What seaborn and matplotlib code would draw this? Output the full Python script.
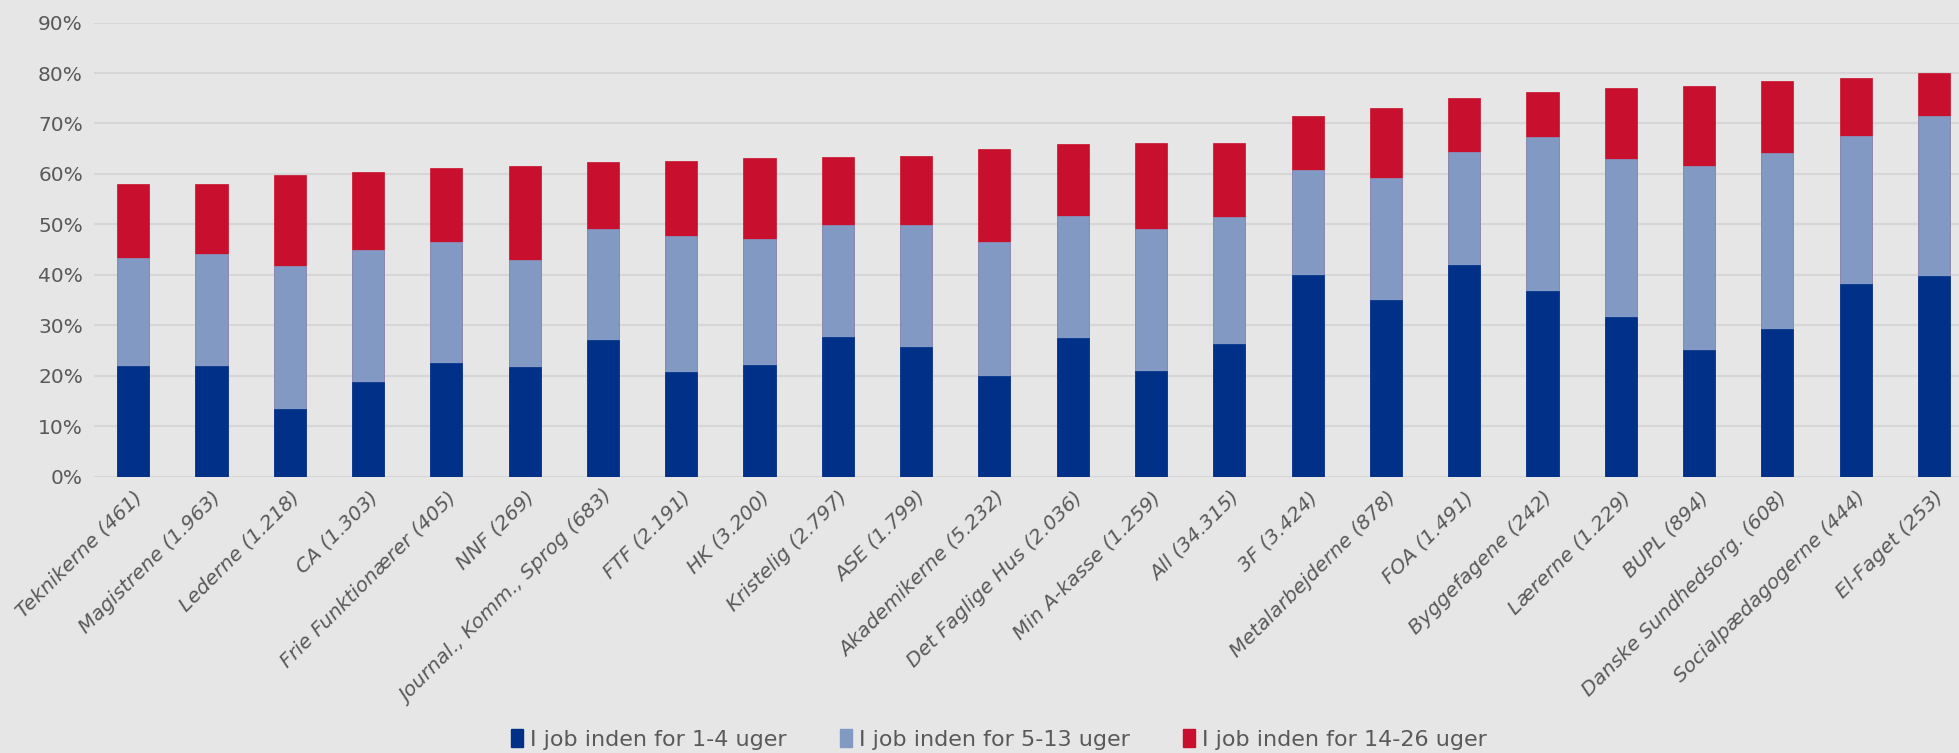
import seaborn as sns
import matplotlib.pyplot as plt
import matplotlib.patches as mpatches
import pandas as pd
import numpy as np

# Andel i job efter ledighed, fordelt på a-kasse
kasser = ["Teknikerne (461)", "Magistrene (1.963)", "Lederne (1.218)", "CA (1.303)",
          "Frie Funktionærer (405)", "NNF (269)", "Journal., Komm., Sprog (683)",
          "FTF (2.191)", "HK (3.200)", "Kristelig (2.797)", "ASE (1.799)",
          "Akademikerne (5.232)", "Det Faglige Hus (2.036)", "Min A-kasse (1.259)",
          "All (34.315)", "3F (3.424)", "Metalarbejderne (878)", "FOA (1.491)",
          "Byggefagene (242)", "Lærerne (1.229)", "BUPL (894)",
          "Danske Sundhedsorg. (608)", "Socialpædagogerne (444)", "El-Faget (253)"]
uger_1_4 = [21.9, 21.9, 13.4, 18.8, 22.6, 21.7, 27.0, 20.7, 22.1, 27.6, 25.7, 20.0,
            27.5, 20.9, 26.3, 40.0, 35.0, 42.0, 36.7, 31.6, 25.1, 29.2, 38.1, 39.7]
uger_5_13 = [21.4, 22.3, 28.4, 26.2, 24.0, 21.3, 22.1, 27.0, 25.0, 22.3, 24.1, 26.5,
             24.2, 28.2, 25.2, 20.8, 24.2, 22.4, 30.6, 31.4, 36.5, 35.0, 29.4, 31.7]
uger_14_26 = [14.7, 13.9, 17.9, 15.3, 14.5, 18.6, 13.2, 14.9, 16.1, 13.4, 13.7, 18.4,
              14.2, 17.0, 14.7, 10.7, 13.9, 10.7, 9.0, 14.1, 15.8, 14.2, 11.6, 8.7]
serier = ["I job inden for 1-4 uger", "I job inden for 5-13 uger", "I job inden for 14-26 uger"]
farver = ["#003087", "#8299C4", "#C8102E"]

df = pd.DataFrame({"kasse": kasser, "a": uger_1_4, "b": uger_5_13, "c": uger_14_26})
df["cum_a"] = df["a"] / 100
df["cum_b"] = (df["a"] + df["b"]) / 100
df["cum_c"] = (df["a"] + df["b"] + df["c"]) / 100

bg = "#E6E6E6"
txt = "#595959"
sns.set_style("white")
plt.rcParams["font.family"] = ["DejaVu Sans"]

fig, ax = plt.subplots(figsize=(19.59, 7.53), dpi=100)
fig.patch.set_facecolor(bg)
ax.set_facecolor(bg)

# stablede søjler: tegn totaler først, derefter de lavere lag ovenpå
for col, c in zip(["cum_c", "cum_b", "cum_a"], farver[::-1]):
    sns.barplot(data=df, x="kasse", y=col, color=c, width=0.41, ax=ax,
                saturation=1, edgecolor=c, linewidth=0.5, zorder=3)

ax.set_ylim(0, 0.9)
ax.set_xlim(-0.5, 23.32)
ax.set_yticks(np.arange(0, 0.91, 0.1))
ax.set_yticklabels([f"{int(round(v*100))}%" for v in np.arange(0, 0.91, 0.1)],
                   fontsize=14.5, color=txt)
ax.yaxis.grid(True, color="#D6D6D6", linewidth=1.5, zorder=0)
ax.set_axisbelow(True)
ax.set_xlabel("")
ax.set_ylabel("")
ax.set_xticks(range(len(kasser)))
ax.set_xticklabels(kasser, rotation=45, ha="right", rotation_mode="anchor",
                   fontsize=14.5, style="italic", color=txt)
ax.tick_params(axis="both", length=0, pad=8)
for s in ax.spines.values():
    s.set_visible(False)

handles = [mpatches.Patch(color=c, label=l) for c, l in zip(farver, serier)]
fig.legend(handles=handles, loc="lower center", bbox_to_anchor=(0.51, -0.022), ncol=3,
           frameon=False, handlelength=0.55, handleheight=0.9, handletextpad=0.3,
           columnspacing=2.4, prop={"family": ["DejaVu Sans"], "size": 16},
           labelcolor=txt)

fig.subplots_adjust(left=0.048, right=1.0, top=0.97, bottom=0.367)
fig.savefig("out.png", dpi=100, facecolor=bg)
